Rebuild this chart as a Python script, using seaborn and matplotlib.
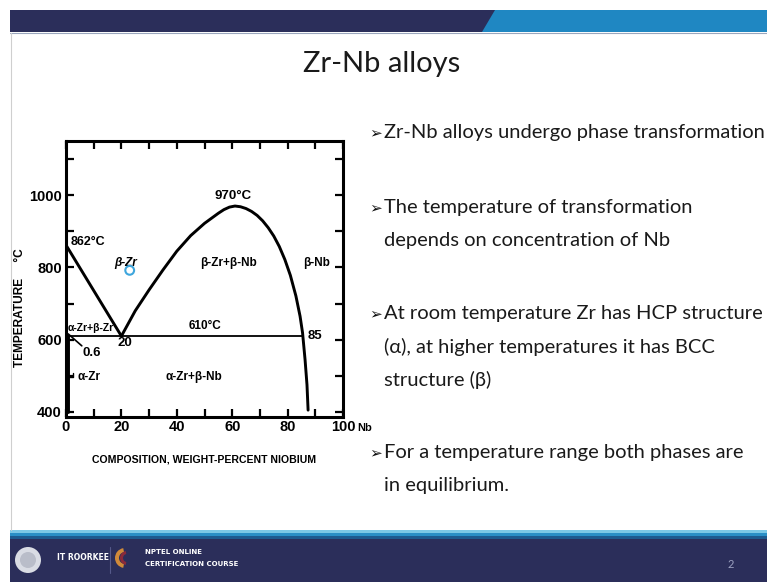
import matplotlib
matplotlib.use("Agg")
import matplotlib.pyplot as plt
import matplotlib.patches as mpatches
import seaborn as sns
import numpy as np
import pandas as pd

# ---------------- data ----------------
transus_x = [0, 20]
transus_T = [862, 610]

dome_x = [20, 25, 30, 35, 40, 45, 50, 55, 57, 59, 61, 63, 65, 67, 69, 71, 73, 75, 77, 79, 81, 83, 84.5, 85.4, 86.3, 87.0, 87.4]
dome_T = [610, 680, 738, 793, 845, 888, 922, 950, 960, 967, 970, 968, 963, 955, 944, 929, 910, 887, 858, 822, 778, 721, 665, 619, 545, 475, 405]

eutectoid_x = [0, 85.4]
eutectoid_T = [610, 610]

solvus_x = [0.9, 0.9]
solvus_T = [610, 400]

xtick_vals = [0, 20, 40, 60, 80, 100]
xtick_labels = ["0", "20", "40", "60", "80", "100"]
ytick_vals = [400, 600, 800, 1000]
ytick_labels = ["400", "600", "800", "1000"]

bullets = [
    ["Zr-Nb alloys undergo phase transformation"],
    ["The temperature of transformation", "depends on concentration of Nb"],
    ["At room temperature Zr has HCP structure", "(\u03b1), at higher temperatures it has BCC", "structure (\u03b2)"],
    ["For a temperature range both phases are", "in equilibrium."],
]
title = "Zr-Nb alloys"

# ---------------- figure ----------------
sns.set_theme(style="ticks")
plt.rcParams["font.family"] = ["Liberation Sans", "DejaVu Sans"]

W, H = 767, 582
fig = plt.figure(figsize=(W / 100, H / 100), dpi=100)
fig.patch.set_facecolor("white")

bg = fig.add_axes([0, 0, 1, 1])
bg.set_xlim(0, W)
bg.set_ylim(H, 0)
bg.axis("off")

navy = "#2b2e5a"
blue = "#1f87c2"
# header
bg.add_patch(mpatches.Rectangle((10, 10), W - 10, 22, color=navy, lw=0))
bg.add_patch(mpatches.Polygon([(495, 10), (W, 10), (W, 32), (482, 32)], closed=True, color=blue, lw=0))
bg.plot([10, W], [32.6, 32.6], color="#9aa6bd", lw=0.8)
# left border
bg.plot([10.5, 10.5], [33, 530], color="#cfcfcf", lw=0.8)
# footer
bg.add_patch(mpatches.Rectangle((10, 530), W - 10, 3, color="#7cc8e6", lw=0))
bg.add_patch(mpatches.Rectangle((10, 533), W - 10, 3, color="#2a8fc6", lw=0))
bg.add_patch(mpatches.Rectangle((10, 536), W - 10, 3, color="#1d5a8f", lw=0))
bg.add_patch(mpatches.Rectangle((10, 539), W - 10, H - 539, color=navy, lw=0))
bg.add_patch(mpatches.Circle((28, 560), 13, color="#d9dce4", lw=0))
bg.add_patch(mpatches.Circle((28, 560), 8, color="#b9bdc9", lw=0))
bg.text(57, 558, "IT ROORKEE", color="white", fontsize=5.5, fontweight="bold",
        family=["DejaVu Sans"], va="center", ha="left")
bg.plot([110, 110], [547, 573], color="#55598a", lw=0.8)
bg.add_patch(mpatches.Wedge((125, 558), 10, 100, 260, width=4, color="#d08a3a", lw=0))
bg.add_patch(mpatches.Wedge((127, 558), 7, 100, 260, width=3, color="#8a2a3a", lw=0))
bg.text(145, 552, "NPTEL ONLINE", color="white", fontsize=5, fontweight="bold",
        family=["DejaVu Sans"], va="center", ha="left")
bg.text(145, 564, "CERTIFICATION COURSE", color="white", fontsize=5, fontweight="bold",
        family=["DejaVu Sans"], va="center", ha="left")
bg.text(731, 564, "2", color="#9ea3c2", fontsize=8, va="center", ha="center", family=["Lato"])

# title
bg.text(382, 72, title, fontsize=21, color="#1a1a1a", ha="center", va="baseline", family=["Lato"])

# bullet text
baselines = [[138], [213, 246], [319, 353, 386], [458, 491]]
for lines, bls in zip(bullets, baselines):
    bg.text(376, bls[0] - 5, "\u27a2", fontsize=11, color="#111111", ha="center", va="center",
            family=["DejaVu Sans"])
    for line, bl in zip(lines, bls):
        bg.text(384, bl, line, fontsize=14.5, color="#1a1a1a", ha="left", va="baseline",
                family=["Lato", "DejaVu Sans"])

# ---------------- phase diagram ----------------
L, R, T, B = 66, 343, 141, 417
ax = fig.add_axes([L / W, (H - B) / H, (R - L) / W, (B - T) / H])
ax.set_facecolor("white")

lw = 2.1
df_tr = pd.DataFrame({"x": transus_x, "T": transus_T})
df_dome = pd.DataFrame({"x": dome_x, "T": dome_T})
df_eu = pd.DataFrame({"x": eutectoid_x, "T": eutectoid_T})
df_so = pd.DataFrame({"x": solvus_x, "T": solvus_T})
sns.lineplot(data=df_tr, x="x", y="T", sort=False, estimator=None, color="black", lw=lw, ax=ax)
sns.lineplot(data=df_dome, x="x", y="T", sort=False, estimator=None, color="black", lw=lw, ax=ax)
sns.lineplot(data=df_eu, x="x", y="T", sort=False, estimator=None, color="black", lw=1.3, ax=ax)
sns.lineplot(data=df_so, x="x", y="T", sort=False, estimator=None, color="black", lw=lw, ax=ax)
# leader for 0.6
ax.plot([0.8, 5.7], [616, 583], color="black", lw=1.2)
# small hook near alpha-Zr label
ax.plot([0.9, 2.6, 2.6], [496, 496, 508], color="black", lw=1.0)

ax.set_xlim(0, 100)
ax.set_ylim(386, 1150)
ax.set_xlabel("")
ax.set_ylabel("")
ax.set_xticks(xtick_vals)
ax.set_xticklabels(xtick_labels)
ax.set_xticks(np.arange(0, 101, 10), minor=True)
ax.set_yticks(ytick_vals)
ax.set_yticklabels(ytick_labels)
ax.set_yticks(np.arange(400, 1101, 100), minor=True)
ax.tick_params(which="both", direction="in", top=True, right=True, length=5.5, width=1.6, color="black")
ax.tick_params(axis="both", which="major", labelsize=10.5, labelcolor="black")
ax.tick_params(axis="x", which="major", pad=2)
ax.tick_params(axis="y", which="major", pad=3)
for lab in ax.get_xticklabels() + ax.get_yticklabels():
    lab.set_fontweight("bold")
for s in ax.spines.values():
    s.set_linewidth(2.2)
    s.set_color("black")

tk = dict(color="black", fontweight="bold")
ax.text(105.2, -0.04, "Nb", transform=ax.get_xaxis_transform(), fontsize=8, va="center", ha="left",
        clip_on=False, **tk)
ax.text(0.5, -0.155, "COMPOSITION, WEIGHT-PERCENT NIOBIUM", transform=ax.transAxes,
        fontsize=7.6, ha="center", va="center", **tk)
ax.text(-0.166, 0.395, "TEMPERATURE     \u00b0C", transform=ax.transAxes, rotation=90,
        fontsize=8.6, ha="center", va="center", **tk)

ax.text(1.8, 871, "862\u00b0C", fontsize=9, ha="left", va="center", **tk)
ax.text(60.3, 997, "970\u00b0C", fontsize=9.5, ha="center", va="center", **tk)
ax.text(21.5, 811, "\u03b2-Zr", fontsize=8.5, ha="center", va="center", style="italic", **tk)
ax.text(58.7, 811, "\u03b2-Zr+\u03b2-Nb", fontsize=8.5, ha="center", va="center", **tk)
ax.text(90.5, 811, "\u03b2-Nb", fontsize=8.5, ha="center", va="center", **tk)
ax.text(0.6, 633, "\u03b1-Zr+\u03b2-Zr", fontsize=7.5, ha="left", va="center", **tk)
ax.text(50.2, 638, "610\u00b0C", fontsize=8.5, ha="center", va="center", **tk)
ax.text(21.3, 590, "20", fontsize=9.5, ha="center", va="center", **tk)
ax.text(9.3, 564, "0.6", fontsize=9.5, ha="center", va="center", **tk)
ax.text(87.2, 611, "85", fontsize=9.5, ha="left", va="center", **tk)
ax.text(4.0, 496, "\u03b1-Zr", fontsize=8.5, ha="left", va="center", **tk)
ax.text(46.0, 496, "\u03b1-Zr+\u03b2-Nb", fontsize=8.5, ha="center", va="center", **tk)
# cursor mark
ax.scatter([23], [792], s=40, facecolors="none", edgecolors="#3ea6dd", linewidths=1.5, zorder=5)

fig.savefig("out.png", dpi=100, facecolor="white")
